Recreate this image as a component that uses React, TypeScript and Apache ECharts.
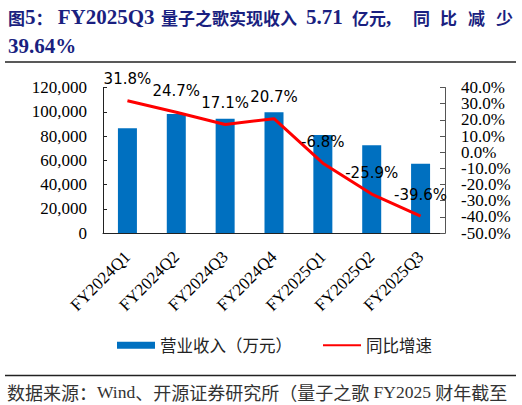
import React, { useEffect, useRef } from "react";
import * as echarts from "echarts";

const categories = ["FY2024Q1", "FY2024Q2", "FY2024Q3", "FY2024Q4", "FY2025Q1", "FY2025Q2", "FY2025Q3"];
const revenue = [86400, 98100, 94300, 99500, 80800, 72300, 57100];
const yoy = [31.8, 24.7, 17.1, 20.7, -6.8, -25.9, -39.6];
const leftTicks = { min: 0, max: 120000, interval: 20000 };
const rightTicks = { min: -50, max: 40, interval: 10 };
const rightLabelsA = [-50, -30, -10, 10, 30];
const rightLabelsB = [-40, -20, 0, 20, 40];
const titlePieces = ["{c|图}{l|5}{c|：}{l| FY2025Q3}", "{c|量子之歌实现收入}", "{l|5.71}", "{c|亿元}{l|,}"];
const titleTail = ["同", "比", "减", "少"];
const titleLine2 = "39.64%";
const sourceText = "{c|数据来源：}{l|Wind}{c|、开源证券研究所（量子之歌}{l| FY2025 }{c|财年截至}";
const barName = "营业收入（万元）";
const lineName = "同比增速";

export default function App() {
  const ref = useRef<HTMLDivElement>(null);
  useEffect(() => {
    document.body.style.margin = "0";
    const chart = echarts.init(ref.current!, null, { renderer: "svg" });
    const serif = "'Liberation Serif', 'Times New Roman', 'Noto Sans CJK SC', serif";
    const titleColor = "#1a1f80";
    const titleRich = {
      c: { fontFamily: "'Noto Sans CJK SC', sans-serif", fontWeight: "bold", fontSize: 17, fill: titleColor, color: titleColor },
      l: { fontFamily: "'Liberation Serif', serif", fontWeight: "bold", fontSize: 21, fill: titleColor, color: titleColor },
    };
    const titleX = [8, 161, 306, 352];
    const tailX = [413, 440, 468, 496];
    const titleGraphics: any[] = titlePieces.map((t, i) => ({
      type: "text",
      x: titleX[i],
      y: 17,
      style: { text: t, rich: titleRich, verticalAlign: "middle", fill: titleColor },
    }));
    titleTail.forEach((ch, i) => {
      titleGraphics.push({
        type: "text",
        x: tailX[i],
        y: 17,
        style: { text: "{c|" + ch + "}", rich: titleRich, verticalAlign: "middle", fill: titleColor },
      });
    });
    const rightLabel = (values: number[]) => ({
      margin: 16,
      align: "left",
      lineHeight: 14,
      color: "#000",
      fontFamily: serif,
      fontSize: 17,
      customValues: values,
      showMinLabel: true,
      showMaxLabel: true,
      hideOverlap: false,
      formatter: (v: number) => v.toFixed(1) + "%",
    });
    chart.setOption({
      animation: false,
      grid: { left: 103, right: 77, top: 87.5, bottom: 172, containLabel: false, outerBoundsMode: "none" },
      xAxis: {
        type: "category",
        data: categories,
        axisLine: { lineStyle: { color: "#222", width: 1 } },
        axisTick: { inside: true, length: 5, lineStyle: { color: "#222" } },
        axisLabel: {
          rotate: 45,
          margin: 21,
          color: "#000",
          fontFamily: serif,
          fontSize: 17,
          interval: 0,
          hideOverlap: false,
        },
      },
      yAxis: [
        {
          type: "value",
          min: leftTicks.min,
          max: leftTicks.max,
          interval: leftTicks.interval,
          splitLine: { show: false },
          axisLine: { show: true, lineStyle: { color: "#222", width: 1 } },
          axisTick: { show: true, inside: true, length: 4, lineStyle: { color: "#222" } },
          axisLabel: {
            margin: 16,
            color: "#000",
            fontFamily: serif,
            fontSize: 17,
            showMinLabel: true,
            showMaxLabel: true,
            hideOverlap: false,
            formatter: (v: number) => v.toLocaleString("en-US"),
          },
        },
        {
          type: "value",
          position: "right",
          min: rightTicks.min,
          max: rightTicks.max,
          interval: rightTicks.interval,
          splitLine: { show: false },
          axisLine: { show: true, lineStyle: { color: "#555", width: 1 } },
          axisTick: { show: true, inside: true, length: 5, lineStyle: { color: "#555" } },
          axisLabel: rightLabel(rightLabelsA),
        },
        {
          type: "value",
          position: "right",
          offset: 0,
          min: rightTicks.min,
          max: rightTicks.max,
          interval: rightTicks.interval,
          splitLine: { show: false },
          axisLine: { show: false },
          axisTick: { show: false },
          axisLabel: rightLabel(rightLabelsB),
        },
      ],
      legend: {
        left: 112,
        top: 332,
        itemWidth: 38,
        itemHeight: 7,
        itemGap: 30,
        textStyle: {
          fontFamily: "'Noto Sans CJK SC', sans-serif",
          fontSize: 16.5,
          color: "#222",
        },
        data: [
          { name: barName, icon: "rect" },
          { name: lineName, itemStyle: { opacity: 0 } },
        ],
      },
      series: [
        {
          name: barName,
          type: "bar",
          data: revenue,
          barWidth: 19,
          itemStyle: { color: "#0070C0" },
          yAxisIndex: 0,
        },
        {
          name: lineName,
          type: "line",
          data: yoy,
          yAxisIndex: 1,
          symbol: "circle",
          symbolSize: 0.01,
          showSymbol: true,
          lineStyle: { color: "#FF0000", width: 3 },
          itemStyle: { color: "#FF0000" },
          label: {
            show: true,
            position: "top",
            distance: 14,
            color: "#000",
            fontFamily: "'DejaVu Sans', sans-serif",
            fontSize: 15,
            formatter: (p: any) => p.value.toFixed(1) + "%",
          },
          labelLayout: { hideOverlap: false },
        },
      ],
      graphic: [
        ...titleGraphics,
        {
          type: "text",
          x: 8,
          y: 46,
          style: {
            text: titleLine2,
            fill: titleColor,
            verticalAlign: "middle",
            font: "bold 21px 'Liberation Serif', serif",
          },
        },
        {
          type: "line",
          shape: { x1: 5, y1: 62, x2: 516, y2: 62 },
          style: { stroke: "#222", lineWidth: 1.5 },
        },
        {
          type: "line",
          shape: { x1: 5, y1: 375.5, x2: 516, y2: 375.5 },
          style: { stroke: "#222", lineWidth: 1.5 },
        },
        {
          type: "text",
          x: 7,
          y: 392,
          style: {
            text: sourceText,
            verticalAlign: "middle",
            rich: {
              c: { fontFamily: "'Noto Sans CJK SC', sans-serif", fontSize: 18, color: "#333", fill: "#333" },
              l: { fontFamily: "'Liberation Serif', serif", fontSize: 17.5, color: "#333", fill: "#333" },
            },
          },
        },
      ],
    });
    return () => chart.dispose();
  }, []);
  return <div ref={ref} style={{ width: 522, height: 405 }} />;
}
